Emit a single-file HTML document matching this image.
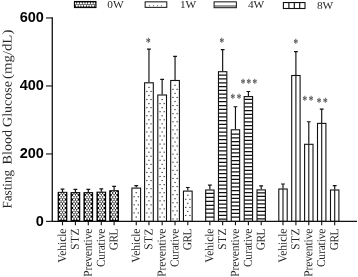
<!DOCTYPE html>
<html><head><meta charset="utf-8"><title>Fasting Blood Glucose</title>
<style>
html,body{margin:0;padding:0;background:#fff;}
body{width:358px;height:277px;overflow:hidden;}
svg{display:block;will-change:transform;opacity:.999;}
.ser{font-family:"Liberation Serif","DejaVu Serif",serif;fill:#262626;}
.san{font-family:"Liberation Sans","DejaVu Sans",sans-serif;font-weight:bold;fill:#000;}
</style></head><body>
<svg width="358" height="277" viewBox="0 0 358 277">
<defs>
<pattern id="chk" width="2.53" height="4.26" patternUnits="userSpaceOnUse" x="62.5" y="197.2">
<rect width="2.53" height="4.26" fill="#000"/>
<path d="M0.000 -1.600L0.950 0.000L0.000 1.600L-0.950 0.000ZM2.530 -1.600L3.480 0.000L2.530 1.600L1.580 0.000ZM0.000 2.660L0.950 4.260L0.000 5.860L-0.950 4.260ZM2.530 2.660L3.480 4.260L2.530 5.860L1.580 4.260ZM1.265 0.530L2.215 2.130L1.265 3.730L0.315 2.130Z" fill="#fff"/>
</pattern>
<pattern id="hz" width="4" height="3.73" patternUnits="userSpaceOnUse" x="0" y="70.75">
<rect width="4" height="3.73" fill="#fff"/><rect x="0" y="0" width="4" height="0.95" fill="#111"/>
</pattern>
</defs>
<rect width="358" height="277" fill="#fff"/>

<path d="M62.50 191.90V189.00M60.60 189.10H64.40" stroke="#111" stroke-width="1.15" fill="none"/>
<rect x="58.20" y="192.40" width="8.60" height="29.00" fill="#000" stroke="#000" stroke-width="1.1"/>
<clipPath id="c625"><rect x="58.80" y="192.85" width="7.4" height="27.95"/></clipPath><g fill="#fff" clip-path="url(#c625)"><ellipse cx="59.80" cy="193.00" rx="1.0" ry="1.2"/><ellipse cx="62.50" cy="193.00" rx="1.0" ry="1.2"/><ellipse cx="65.20" cy="193.00" rx="1.0" ry="1.2"/><ellipse cx="61.15" cy="195.15" rx="1.0" ry="1.2"/><ellipse cx="63.85" cy="195.15" rx="1.0" ry="1.2"/><ellipse cx="59.80" cy="197.30" rx="1.0" ry="1.2"/><ellipse cx="62.50" cy="197.30" rx="1.0" ry="1.2"/><ellipse cx="65.20" cy="197.30" rx="1.0" ry="1.2"/><ellipse cx="61.15" cy="199.45" rx="1.0" ry="1.2"/><ellipse cx="63.85" cy="199.45" rx="1.0" ry="1.2"/><ellipse cx="59.80" cy="201.60" rx="1.0" ry="1.2"/><ellipse cx="62.50" cy="201.60" rx="1.0" ry="1.2"/><ellipse cx="65.20" cy="201.60" rx="1.0" ry="1.2"/><ellipse cx="61.15" cy="203.75" rx="1.0" ry="1.2"/><ellipse cx="63.85" cy="203.75" rx="1.0" ry="1.2"/><ellipse cx="59.80" cy="205.90" rx="1.0" ry="1.2"/><ellipse cx="62.50" cy="205.90" rx="1.0" ry="1.2"/><ellipse cx="65.20" cy="205.90" rx="1.0" ry="1.2"/><ellipse cx="61.15" cy="208.05" rx="1.0" ry="1.2"/><ellipse cx="63.85" cy="208.05" rx="1.0" ry="1.2"/><ellipse cx="59.80" cy="210.20" rx="1.0" ry="1.2"/><ellipse cx="62.50" cy="210.20" rx="1.0" ry="1.2"/><ellipse cx="65.20" cy="210.20" rx="1.0" ry="1.2"/><ellipse cx="61.15" cy="212.35" rx="1.0" ry="1.2"/><ellipse cx="63.85" cy="212.35" rx="1.0" ry="1.2"/><ellipse cx="59.80" cy="214.50" rx="1.0" ry="1.2"/><ellipse cx="62.50" cy="214.50" rx="1.0" ry="1.2"/><ellipse cx="65.20" cy="214.50" rx="1.0" ry="1.2"/><ellipse cx="61.15" cy="216.65" rx="1.0" ry="1.2"/><ellipse cx="63.85" cy="216.65" rx="1.0" ry="1.2"/><ellipse cx="59.80" cy="218.80" rx="1.0" ry="1.2"/><ellipse cx="62.50" cy="218.80" rx="1.0" ry="1.2"/><ellipse cx="65.20" cy="218.80" rx="1.0" ry="1.2"/></g>
<path d="M62.50 221.40V225.3" stroke="#111" stroke-width="1.1"/>
<text class="ser" font-size="11.4" text-anchor="end" letter-spacing="0" transform="translate(65.95 228.60) rotate(-89.9) scale(1 1.06)">Vehicle</text>
<path d="M75.40 192.20V189.20M73.50 189.30H77.30" stroke="#111" stroke-width="1.15" fill="none"/>
<rect x="71.10" y="192.70" width="8.60" height="28.70" fill="#000" stroke="#000" stroke-width="1.1"/>
<clipPath id="c754"><rect x="71.70" y="193.15" width="7.4" height="27.65"/></clipPath><g fill="#fff" clip-path="url(#c754)"><ellipse cx="72.70" cy="193.00" rx="1.0" ry="1.2"/><ellipse cx="75.40" cy="193.00" rx="1.0" ry="1.2"/><ellipse cx="78.10" cy="193.00" rx="1.0" ry="1.2"/><ellipse cx="74.05" cy="195.15" rx="1.0" ry="1.2"/><ellipse cx="76.75" cy="195.15" rx="1.0" ry="1.2"/><ellipse cx="72.70" cy="197.30" rx="1.0" ry="1.2"/><ellipse cx="75.40" cy="197.30" rx="1.0" ry="1.2"/><ellipse cx="78.10" cy="197.30" rx="1.0" ry="1.2"/><ellipse cx="74.05" cy="199.45" rx="1.0" ry="1.2"/><ellipse cx="76.75" cy="199.45" rx="1.0" ry="1.2"/><ellipse cx="72.70" cy="201.60" rx="1.0" ry="1.2"/><ellipse cx="75.40" cy="201.60" rx="1.0" ry="1.2"/><ellipse cx="78.10" cy="201.60" rx="1.0" ry="1.2"/><ellipse cx="74.05" cy="203.75" rx="1.0" ry="1.2"/><ellipse cx="76.75" cy="203.75" rx="1.0" ry="1.2"/><ellipse cx="72.70" cy="205.90" rx="1.0" ry="1.2"/><ellipse cx="75.40" cy="205.90" rx="1.0" ry="1.2"/><ellipse cx="78.10" cy="205.90" rx="1.0" ry="1.2"/><ellipse cx="74.05" cy="208.05" rx="1.0" ry="1.2"/><ellipse cx="76.75" cy="208.05" rx="1.0" ry="1.2"/><ellipse cx="72.70" cy="210.20" rx="1.0" ry="1.2"/><ellipse cx="75.40" cy="210.20" rx="1.0" ry="1.2"/><ellipse cx="78.10" cy="210.20" rx="1.0" ry="1.2"/><ellipse cx="74.05" cy="212.35" rx="1.0" ry="1.2"/><ellipse cx="76.75" cy="212.35" rx="1.0" ry="1.2"/><ellipse cx="72.70" cy="214.50" rx="1.0" ry="1.2"/><ellipse cx="75.40" cy="214.50" rx="1.0" ry="1.2"/><ellipse cx="78.10" cy="214.50" rx="1.0" ry="1.2"/><ellipse cx="74.05" cy="216.65" rx="1.0" ry="1.2"/><ellipse cx="76.75" cy="216.65" rx="1.0" ry="1.2"/><ellipse cx="72.70" cy="218.80" rx="1.0" ry="1.2"/><ellipse cx="75.40" cy="218.80" rx="1.0" ry="1.2"/><ellipse cx="78.10" cy="218.80" rx="1.0" ry="1.2"/></g>
<path d="M75.40 221.40V225.3" stroke="#111" stroke-width="1.1"/>
<text class="ser" font-size="11.4" text-anchor="end" letter-spacing="0.4" transform="translate(78.85 228.20) rotate(-89.9) scale(1 1.06)">STZ</text>
<path d="M88.30 192.20V189.20M86.40 189.30H90.20" stroke="#111" stroke-width="1.15" fill="none"/>
<rect x="84.00" y="192.70" width="8.60" height="28.70" fill="#000" stroke="#000" stroke-width="1.1"/>
<clipPath id="c883"><rect x="84.60" y="193.15" width="7.4" height="27.65"/></clipPath><g fill="#fff" clip-path="url(#c883)"><ellipse cx="85.60" cy="193.00" rx="1.0" ry="1.2"/><ellipse cx="88.30" cy="193.00" rx="1.0" ry="1.2"/><ellipse cx="91.00" cy="193.00" rx="1.0" ry="1.2"/><ellipse cx="86.95" cy="195.15" rx="1.0" ry="1.2"/><ellipse cx="89.65" cy="195.15" rx="1.0" ry="1.2"/><ellipse cx="85.60" cy="197.30" rx="1.0" ry="1.2"/><ellipse cx="88.30" cy="197.30" rx="1.0" ry="1.2"/><ellipse cx="91.00" cy="197.30" rx="1.0" ry="1.2"/><ellipse cx="86.95" cy="199.45" rx="1.0" ry="1.2"/><ellipse cx="89.65" cy="199.45" rx="1.0" ry="1.2"/><ellipse cx="85.60" cy="201.60" rx="1.0" ry="1.2"/><ellipse cx="88.30" cy="201.60" rx="1.0" ry="1.2"/><ellipse cx="91.00" cy="201.60" rx="1.0" ry="1.2"/><ellipse cx="86.95" cy="203.75" rx="1.0" ry="1.2"/><ellipse cx="89.65" cy="203.75" rx="1.0" ry="1.2"/><ellipse cx="85.60" cy="205.90" rx="1.0" ry="1.2"/><ellipse cx="88.30" cy="205.90" rx="1.0" ry="1.2"/><ellipse cx="91.00" cy="205.90" rx="1.0" ry="1.2"/><ellipse cx="86.95" cy="208.05" rx="1.0" ry="1.2"/><ellipse cx="89.65" cy="208.05" rx="1.0" ry="1.2"/><ellipse cx="85.60" cy="210.20" rx="1.0" ry="1.2"/><ellipse cx="88.30" cy="210.20" rx="1.0" ry="1.2"/><ellipse cx="91.00" cy="210.20" rx="1.0" ry="1.2"/><ellipse cx="86.95" cy="212.35" rx="1.0" ry="1.2"/><ellipse cx="89.65" cy="212.35" rx="1.0" ry="1.2"/><ellipse cx="85.60" cy="214.50" rx="1.0" ry="1.2"/><ellipse cx="88.30" cy="214.50" rx="1.0" ry="1.2"/><ellipse cx="91.00" cy="214.50" rx="1.0" ry="1.2"/><ellipse cx="86.95" cy="216.65" rx="1.0" ry="1.2"/><ellipse cx="89.65" cy="216.65" rx="1.0" ry="1.2"/><ellipse cx="85.60" cy="218.80" rx="1.0" ry="1.2"/><ellipse cx="88.30" cy="218.80" rx="1.0" ry="1.2"/><ellipse cx="91.00" cy="218.80" rx="1.0" ry="1.2"/></g>
<path d="M88.30 221.40V225.3" stroke="#111" stroke-width="1.1"/>
<text class="ser" font-size="11.4" text-anchor="end" letter-spacing="-0.05" transform="translate(91.75 228.65) rotate(-89.9) scale(1 1.06)">Preventive</text>
<path d="M101.30 191.70V188.80M99.40 188.90H103.20" stroke="#111" stroke-width="1.15" fill="none"/>
<rect x="97.00" y="192.20" width="8.60" height="29.20" fill="#000" stroke="#000" stroke-width="1.1"/>
<clipPath id="c1013"><rect x="97.60" y="192.65" width="7.4" height="28.15"/></clipPath><g fill="#fff" clip-path="url(#c1013)"><ellipse cx="98.60" cy="193.00" rx="1.0" ry="1.2"/><ellipse cx="101.30" cy="193.00" rx="1.0" ry="1.2"/><ellipse cx="104.00" cy="193.00" rx="1.0" ry="1.2"/><ellipse cx="99.95" cy="195.15" rx="1.0" ry="1.2"/><ellipse cx="102.65" cy="195.15" rx="1.0" ry="1.2"/><ellipse cx="98.60" cy="197.30" rx="1.0" ry="1.2"/><ellipse cx="101.30" cy="197.30" rx="1.0" ry="1.2"/><ellipse cx="104.00" cy="197.30" rx="1.0" ry="1.2"/><ellipse cx="99.95" cy="199.45" rx="1.0" ry="1.2"/><ellipse cx="102.65" cy="199.45" rx="1.0" ry="1.2"/><ellipse cx="98.60" cy="201.60" rx="1.0" ry="1.2"/><ellipse cx="101.30" cy="201.60" rx="1.0" ry="1.2"/><ellipse cx="104.00" cy="201.60" rx="1.0" ry="1.2"/><ellipse cx="99.95" cy="203.75" rx="1.0" ry="1.2"/><ellipse cx="102.65" cy="203.75" rx="1.0" ry="1.2"/><ellipse cx="98.60" cy="205.90" rx="1.0" ry="1.2"/><ellipse cx="101.30" cy="205.90" rx="1.0" ry="1.2"/><ellipse cx="104.00" cy="205.90" rx="1.0" ry="1.2"/><ellipse cx="99.95" cy="208.05" rx="1.0" ry="1.2"/><ellipse cx="102.65" cy="208.05" rx="1.0" ry="1.2"/><ellipse cx="98.60" cy="210.20" rx="1.0" ry="1.2"/><ellipse cx="101.30" cy="210.20" rx="1.0" ry="1.2"/><ellipse cx="104.00" cy="210.20" rx="1.0" ry="1.2"/><ellipse cx="99.95" cy="212.35" rx="1.0" ry="1.2"/><ellipse cx="102.65" cy="212.35" rx="1.0" ry="1.2"/><ellipse cx="98.60" cy="214.50" rx="1.0" ry="1.2"/><ellipse cx="101.30" cy="214.50" rx="1.0" ry="1.2"/><ellipse cx="104.00" cy="214.50" rx="1.0" ry="1.2"/><ellipse cx="99.95" cy="216.65" rx="1.0" ry="1.2"/><ellipse cx="102.65" cy="216.65" rx="1.0" ry="1.2"/><ellipse cx="98.60" cy="218.80" rx="1.0" ry="1.2"/><ellipse cx="101.30" cy="218.80" rx="1.0" ry="1.2"/><ellipse cx="104.00" cy="218.80" rx="1.0" ry="1.2"/></g>
<path d="M101.30 221.40V225.3" stroke="#111" stroke-width="1.1"/>
<text class="ser" font-size="11.4" text-anchor="end" letter-spacing="-0.1" transform="translate(104.75 228.70) rotate(-89.9) scale(1 1.06)">Curative</text>
<path d="M114.10 190.30V186.20M112.20 186.30H116.00" stroke="#111" stroke-width="1.15" fill="none"/>
<rect x="109.80" y="190.80" width="8.60" height="30.60" fill="#000" stroke="#000" stroke-width="1.1"/>
<clipPath id="c1141"><rect x="110.40" y="191.25" width="7.4" height="29.55"/></clipPath><g fill="#fff" clip-path="url(#c1141)"><ellipse cx="112.75" cy="190.85" rx="1.0" ry="1.2"/><ellipse cx="115.45" cy="190.85" rx="1.0" ry="1.2"/><ellipse cx="111.40" cy="193.00" rx="1.0" ry="1.2"/><ellipse cx="114.10" cy="193.00" rx="1.0" ry="1.2"/><ellipse cx="116.80" cy="193.00" rx="1.0" ry="1.2"/><ellipse cx="112.75" cy="195.15" rx="1.0" ry="1.2"/><ellipse cx="115.45" cy="195.15" rx="1.0" ry="1.2"/><ellipse cx="111.40" cy="197.30" rx="1.0" ry="1.2"/><ellipse cx="114.10" cy="197.30" rx="1.0" ry="1.2"/><ellipse cx="116.80" cy="197.30" rx="1.0" ry="1.2"/><ellipse cx="112.75" cy="199.45" rx="1.0" ry="1.2"/><ellipse cx="115.45" cy="199.45" rx="1.0" ry="1.2"/><ellipse cx="111.40" cy="201.60" rx="1.0" ry="1.2"/><ellipse cx="114.10" cy="201.60" rx="1.0" ry="1.2"/><ellipse cx="116.80" cy="201.60" rx="1.0" ry="1.2"/><ellipse cx="112.75" cy="203.75" rx="1.0" ry="1.2"/><ellipse cx="115.45" cy="203.75" rx="1.0" ry="1.2"/><ellipse cx="111.40" cy="205.90" rx="1.0" ry="1.2"/><ellipse cx="114.10" cy="205.90" rx="1.0" ry="1.2"/><ellipse cx="116.80" cy="205.90" rx="1.0" ry="1.2"/><ellipse cx="112.75" cy="208.05" rx="1.0" ry="1.2"/><ellipse cx="115.45" cy="208.05" rx="1.0" ry="1.2"/><ellipse cx="111.40" cy="210.20" rx="1.0" ry="1.2"/><ellipse cx="114.10" cy="210.20" rx="1.0" ry="1.2"/><ellipse cx="116.80" cy="210.20" rx="1.0" ry="1.2"/><ellipse cx="112.75" cy="212.35" rx="1.0" ry="1.2"/><ellipse cx="115.45" cy="212.35" rx="1.0" ry="1.2"/><ellipse cx="111.40" cy="214.50" rx="1.0" ry="1.2"/><ellipse cx="114.10" cy="214.50" rx="1.0" ry="1.2"/><ellipse cx="116.80" cy="214.50" rx="1.0" ry="1.2"/><ellipse cx="112.75" cy="216.65" rx="1.0" ry="1.2"/><ellipse cx="115.45" cy="216.65" rx="1.0" ry="1.2"/><ellipse cx="111.40" cy="218.80" rx="1.0" ry="1.2"/><ellipse cx="114.10" cy="218.80" rx="1.0" ry="1.2"/><ellipse cx="116.80" cy="218.80" rx="1.0" ry="1.2"/></g>
<path d="M114.10 221.40V225.3" stroke="#111" stroke-width="1.1"/>
<text class="ser" font-size="11.4" text-anchor="end" letter-spacing="-0.6" transform="translate(117.55 229.20) rotate(-89.9) scale(1 1.06)">GRL</text>
<path d="M136.25 187.60V185.50M134.35 185.60H138.15" stroke="#111" stroke-width="1.15" fill="none"/>
<rect x="131.90" y="188.10" width="8.70" height="33.30" fill="#fff" stroke="#111" stroke-width="1.1"/>
<rect x="135.60" y="192.15" width="1.3" height="1.1" fill="#3a3a3a"/>
<rect x="133.50" y="196.20" width="1.3" height="1.1" fill="#3a3a3a"/>
<rect x="137.70" y="196.20" width="1.3" height="1.1" fill="#3a3a3a"/>
<rect x="135.60" y="200.25" width="1.3" height="1.1" fill="#3a3a3a"/>
<rect x="133.50" y="204.30" width="1.3" height="1.1" fill="#3a3a3a"/>
<rect x="137.70" y="204.30" width="1.3" height="1.1" fill="#3a3a3a"/>
<rect x="135.60" y="208.35" width="1.3" height="1.1" fill="#3a3a3a"/>
<rect x="133.50" y="212.40" width="1.3" height="1.1" fill="#3a3a3a"/>
<rect x="137.70" y="212.40" width="1.3" height="1.1" fill="#3a3a3a"/>
<rect x="135.60" y="216.45" width="1.3" height="1.1" fill="#3a3a3a"/>
<path d="M136.25 221.40V225.3" stroke="#111" stroke-width="1.1"/>
<text class="ser" font-size="11.4" text-anchor="end" letter-spacing="0" transform="translate(139.70 228.60) rotate(-89.9) scale(1 1.06)">Vehicle</text>
<path d="M148.95 82.30V49.00M147.05 49.10H150.85" stroke="#111" stroke-width="1.15" fill="none"/>
<rect x="144.60" y="82.80" width="8.70" height="138.60" fill="#fff" stroke="#111" stroke-width="1.1"/>
<rect x="148.30" y="86.85" width="1.3" height="1.1" fill="#3a3a3a"/>
<rect x="146.20" y="90.90" width="1.3" height="1.1" fill="#3a3a3a"/>
<rect x="150.40" y="90.90" width="1.3" height="1.1" fill="#3a3a3a"/>
<rect x="148.30" y="94.95" width="1.3" height="1.1" fill="#3a3a3a"/>
<rect x="146.20" y="99.00" width="1.3" height="1.1" fill="#3a3a3a"/>
<rect x="150.40" y="99.00" width="1.3" height="1.1" fill="#3a3a3a"/>
<rect x="148.30" y="103.05" width="1.3" height="1.1" fill="#3a3a3a"/>
<rect x="146.20" y="107.10" width="1.3" height="1.1" fill="#3a3a3a"/>
<rect x="150.40" y="107.10" width="1.3" height="1.1" fill="#3a3a3a"/>
<rect x="148.30" y="111.15" width="1.3" height="1.1" fill="#3a3a3a"/>
<rect x="146.20" y="115.20" width="1.3" height="1.1" fill="#3a3a3a"/>
<rect x="150.40" y="115.20" width="1.3" height="1.1" fill="#3a3a3a"/>
<rect x="148.30" y="119.25" width="1.3" height="1.1" fill="#3a3a3a"/>
<rect x="146.20" y="123.30" width="1.3" height="1.1" fill="#3a3a3a"/>
<rect x="150.40" y="123.30" width="1.3" height="1.1" fill="#3a3a3a"/>
<rect x="148.30" y="127.35" width="1.3" height="1.1" fill="#3a3a3a"/>
<rect x="146.20" y="131.40" width="1.3" height="1.1" fill="#3a3a3a"/>
<rect x="150.40" y="131.40" width="1.3" height="1.1" fill="#3a3a3a"/>
<rect x="148.30" y="135.45" width="1.3" height="1.1" fill="#3a3a3a"/>
<rect x="146.20" y="139.50" width="1.3" height="1.1" fill="#3a3a3a"/>
<rect x="150.40" y="139.50" width="1.3" height="1.1" fill="#3a3a3a"/>
<rect x="148.30" y="143.55" width="1.3" height="1.1" fill="#3a3a3a"/>
<rect x="146.20" y="147.60" width="1.3" height="1.1" fill="#3a3a3a"/>
<rect x="150.40" y="147.60" width="1.3" height="1.1" fill="#3a3a3a"/>
<rect x="148.30" y="151.65" width="1.3" height="1.1" fill="#3a3a3a"/>
<rect x="146.20" y="155.70" width="1.3" height="1.1" fill="#3a3a3a"/>
<rect x="150.40" y="155.70" width="1.3" height="1.1" fill="#3a3a3a"/>
<rect x="148.30" y="159.75" width="1.3" height="1.1" fill="#3a3a3a"/>
<rect x="146.20" y="163.80" width="1.3" height="1.1" fill="#3a3a3a"/>
<rect x="150.40" y="163.80" width="1.3" height="1.1" fill="#3a3a3a"/>
<rect x="148.30" y="167.85" width="1.3" height="1.1" fill="#3a3a3a"/>
<rect x="146.20" y="171.90" width="1.3" height="1.1" fill="#3a3a3a"/>
<rect x="150.40" y="171.90" width="1.3" height="1.1" fill="#3a3a3a"/>
<rect x="148.30" y="175.95" width="1.3" height="1.1" fill="#3a3a3a"/>
<rect x="146.20" y="180.00" width="1.3" height="1.1" fill="#3a3a3a"/>
<rect x="150.40" y="180.00" width="1.3" height="1.1" fill="#3a3a3a"/>
<rect x="148.30" y="184.05" width="1.3" height="1.1" fill="#3a3a3a"/>
<rect x="146.20" y="188.10" width="1.3" height="1.1" fill="#3a3a3a"/>
<rect x="150.40" y="188.10" width="1.3" height="1.1" fill="#3a3a3a"/>
<rect x="148.30" y="192.15" width="1.3" height="1.1" fill="#3a3a3a"/>
<rect x="146.20" y="196.20" width="1.3" height="1.1" fill="#3a3a3a"/>
<rect x="150.40" y="196.20" width="1.3" height="1.1" fill="#3a3a3a"/>
<rect x="148.30" y="200.25" width="1.3" height="1.1" fill="#3a3a3a"/>
<rect x="146.20" y="204.30" width="1.3" height="1.1" fill="#3a3a3a"/>
<rect x="150.40" y="204.30" width="1.3" height="1.1" fill="#3a3a3a"/>
<rect x="148.30" y="208.35" width="1.3" height="1.1" fill="#3a3a3a"/>
<rect x="146.20" y="212.40" width="1.3" height="1.1" fill="#3a3a3a"/>
<rect x="150.40" y="212.40" width="1.3" height="1.1" fill="#3a3a3a"/>
<rect x="148.30" y="216.45" width="1.3" height="1.1" fill="#3a3a3a"/>
<path d="M148.95 221.40V225.3" stroke="#111" stroke-width="1.1"/>
<text class="ser" font-size="11.4" text-anchor="end" letter-spacing="0.4" transform="translate(152.40 228.20) rotate(-89.9) scale(1 1.06)">STZ</text>
<path d="M162.15 94.50V79.30M160.25 79.40H164.05" stroke="#111" stroke-width="1.15" fill="none"/>
<rect x="157.80" y="95.00" width="8.70" height="126.40" fill="#fff" stroke="#111" stroke-width="1.1"/>
<rect x="161.50" y="99.00" width="1.3" height="1.1" fill="#3a3a3a"/>
<rect x="159.40" y="103.05" width="1.3" height="1.1" fill="#3a3a3a"/>
<rect x="163.60" y="103.05" width="1.3" height="1.1" fill="#3a3a3a"/>
<rect x="161.50" y="107.10" width="1.3" height="1.1" fill="#3a3a3a"/>
<rect x="159.40" y="111.15" width="1.3" height="1.1" fill="#3a3a3a"/>
<rect x="163.60" y="111.15" width="1.3" height="1.1" fill="#3a3a3a"/>
<rect x="161.50" y="115.20" width="1.3" height="1.1" fill="#3a3a3a"/>
<rect x="159.40" y="119.25" width="1.3" height="1.1" fill="#3a3a3a"/>
<rect x="163.60" y="119.25" width="1.3" height="1.1" fill="#3a3a3a"/>
<rect x="161.50" y="123.30" width="1.3" height="1.1" fill="#3a3a3a"/>
<rect x="159.40" y="127.35" width="1.3" height="1.1" fill="#3a3a3a"/>
<rect x="163.60" y="127.35" width="1.3" height="1.1" fill="#3a3a3a"/>
<rect x="161.50" y="131.40" width="1.3" height="1.1" fill="#3a3a3a"/>
<rect x="159.40" y="135.45" width="1.3" height="1.1" fill="#3a3a3a"/>
<rect x="163.60" y="135.45" width="1.3" height="1.1" fill="#3a3a3a"/>
<rect x="161.50" y="139.50" width="1.3" height="1.1" fill="#3a3a3a"/>
<rect x="159.40" y="143.55" width="1.3" height="1.1" fill="#3a3a3a"/>
<rect x="163.60" y="143.55" width="1.3" height="1.1" fill="#3a3a3a"/>
<rect x="161.50" y="147.60" width="1.3" height="1.1" fill="#3a3a3a"/>
<rect x="159.40" y="151.65" width="1.3" height="1.1" fill="#3a3a3a"/>
<rect x="163.60" y="151.65" width="1.3" height="1.1" fill="#3a3a3a"/>
<rect x="161.50" y="155.70" width="1.3" height="1.1" fill="#3a3a3a"/>
<rect x="159.40" y="159.75" width="1.3" height="1.1" fill="#3a3a3a"/>
<rect x="163.60" y="159.75" width="1.3" height="1.1" fill="#3a3a3a"/>
<rect x="161.50" y="163.80" width="1.3" height="1.1" fill="#3a3a3a"/>
<rect x="159.40" y="167.85" width="1.3" height="1.1" fill="#3a3a3a"/>
<rect x="163.60" y="167.85" width="1.3" height="1.1" fill="#3a3a3a"/>
<rect x="161.50" y="171.90" width="1.3" height="1.1" fill="#3a3a3a"/>
<rect x="159.40" y="175.95" width="1.3" height="1.1" fill="#3a3a3a"/>
<rect x="163.60" y="175.95" width="1.3" height="1.1" fill="#3a3a3a"/>
<rect x="161.50" y="180.00" width="1.3" height="1.1" fill="#3a3a3a"/>
<rect x="159.40" y="184.05" width="1.3" height="1.1" fill="#3a3a3a"/>
<rect x="163.60" y="184.05" width="1.3" height="1.1" fill="#3a3a3a"/>
<rect x="161.50" y="188.10" width="1.3" height="1.1" fill="#3a3a3a"/>
<rect x="159.40" y="192.15" width="1.3" height="1.1" fill="#3a3a3a"/>
<rect x="163.60" y="192.15" width="1.3" height="1.1" fill="#3a3a3a"/>
<rect x="161.50" y="196.20" width="1.3" height="1.1" fill="#3a3a3a"/>
<rect x="159.40" y="200.25" width="1.3" height="1.1" fill="#3a3a3a"/>
<rect x="163.60" y="200.25" width="1.3" height="1.1" fill="#3a3a3a"/>
<rect x="161.50" y="204.30" width="1.3" height="1.1" fill="#3a3a3a"/>
<rect x="159.40" y="208.35" width="1.3" height="1.1" fill="#3a3a3a"/>
<rect x="163.60" y="208.35" width="1.3" height="1.1" fill="#3a3a3a"/>
<rect x="161.50" y="212.40" width="1.3" height="1.1" fill="#3a3a3a"/>
<rect x="159.40" y="216.45" width="1.3" height="1.1" fill="#3a3a3a"/>
<rect x="163.60" y="216.45" width="1.3" height="1.1" fill="#3a3a3a"/>
<path d="M162.15 221.40V225.3" stroke="#111" stroke-width="1.1"/>
<text class="ser" font-size="11.4" text-anchor="end" letter-spacing="-0.05" transform="translate(165.60 228.65) rotate(-89.9) scale(1 1.06)">Preventive</text>
<path d="M175.05 80.00V56.30M173.15 56.40H176.95" stroke="#111" stroke-width="1.15" fill="none"/>
<rect x="170.70" y="80.50" width="8.70" height="140.90" fill="#fff" stroke="#111" stroke-width="1.1"/>
<rect x="174.40" y="84.75" width="1.3" height="1.1" fill="#3a3a3a"/>
<rect x="172.30" y="88.80" width="1.3" height="1.1" fill="#3a3a3a"/>
<rect x="176.50" y="88.80" width="1.3" height="1.1" fill="#3a3a3a"/>
<rect x="174.40" y="92.85" width="1.3" height="1.1" fill="#3a3a3a"/>
<rect x="172.30" y="96.90" width="1.3" height="1.1" fill="#3a3a3a"/>
<rect x="176.50" y="96.90" width="1.3" height="1.1" fill="#3a3a3a"/>
<rect x="174.40" y="100.95" width="1.3" height="1.1" fill="#3a3a3a"/>
<rect x="172.30" y="105.00" width="1.3" height="1.1" fill="#3a3a3a"/>
<rect x="176.50" y="105.00" width="1.3" height="1.1" fill="#3a3a3a"/>
<rect x="174.40" y="109.05" width="1.3" height="1.1" fill="#3a3a3a"/>
<rect x="172.30" y="113.10" width="1.3" height="1.1" fill="#3a3a3a"/>
<rect x="176.50" y="113.10" width="1.3" height="1.1" fill="#3a3a3a"/>
<rect x="174.40" y="117.15" width="1.3" height="1.1" fill="#3a3a3a"/>
<rect x="172.30" y="121.20" width="1.3" height="1.1" fill="#3a3a3a"/>
<rect x="176.50" y="121.20" width="1.3" height="1.1" fill="#3a3a3a"/>
<rect x="174.40" y="125.25" width="1.3" height="1.1" fill="#3a3a3a"/>
<rect x="172.30" y="129.30" width="1.3" height="1.1" fill="#3a3a3a"/>
<rect x="176.50" y="129.30" width="1.3" height="1.1" fill="#3a3a3a"/>
<rect x="174.40" y="133.35" width="1.3" height="1.1" fill="#3a3a3a"/>
<rect x="172.30" y="137.40" width="1.3" height="1.1" fill="#3a3a3a"/>
<rect x="176.50" y="137.40" width="1.3" height="1.1" fill="#3a3a3a"/>
<rect x="174.40" y="141.45" width="1.3" height="1.1" fill="#3a3a3a"/>
<rect x="172.30" y="145.50" width="1.3" height="1.1" fill="#3a3a3a"/>
<rect x="176.50" y="145.50" width="1.3" height="1.1" fill="#3a3a3a"/>
<rect x="174.40" y="149.55" width="1.3" height="1.1" fill="#3a3a3a"/>
<rect x="172.30" y="153.60" width="1.3" height="1.1" fill="#3a3a3a"/>
<rect x="176.50" y="153.60" width="1.3" height="1.1" fill="#3a3a3a"/>
<rect x="174.40" y="157.65" width="1.3" height="1.1" fill="#3a3a3a"/>
<rect x="172.30" y="161.70" width="1.3" height="1.1" fill="#3a3a3a"/>
<rect x="176.50" y="161.70" width="1.3" height="1.1" fill="#3a3a3a"/>
<rect x="174.40" y="165.75" width="1.3" height="1.1" fill="#3a3a3a"/>
<rect x="172.30" y="169.80" width="1.3" height="1.1" fill="#3a3a3a"/>
<rect x="176.50" y="169.80" width="1.3" height="1.1" fill="#3a3a3a"/>
<rect x="174.40" y="173.85" width="1.3" height="1.1" fill="#3a3a3a"/>
<rect x="172.30" y="177.90" width="1.3" height="1.1" fill="#3a3a3a"/>
<rect x="176.50" y="177.90" width="1.3" height="1.1" fill="#3a3a3a"/>
<rect x="174.40" y="181.95" width="1.3" height="1.1" fill="#3a3a3a"/>
<rect x="172.30" y="186.00" width="1.3" height="1.1" fill="#3a3a3a"/>
<rect x="176.50" y="186.00" width="1.3" height="1.1" fill="#3a3a3a"/>
<rect x="174.40" y="190.05" width="1.3" height="1.1" fill="#3a3a3a"/>
<rect x="172.30" y="194.10" width="1.3" height="1.1" fill="#3a3a3a"/>
<rect x="176.50" y="194.10" width="1.3" height="1.1" fill="#3a3a3a"/>
<rect x="174.40" y="198.15" width="1.3" height="1.1" fill="#3a3a3a"/>
<rect x="172.30" y="202.20" width="1.3" height="1.1" fill="#3a3a3a"/>
<rect x="176.50" y="202.20" width="1.3" height="1.1" fill="#3a3a3a"/>
<rect x="174.40" y="206.25" width="1.3" height="1.1" fill="#3a3a3a"/>
<rect x="172.30" y="210.30" width="1.3" height="1.1" fill="#3a3a3a"/>
<rect x="176.50" y="210.30" width="1.3" height="1.1" fill="#3a3a3a"/>
<rect x="174.40" y="214.35" width="1.3" height="1.1" fill="#3a3a3a"/>
<rect x="172.30" y="218.40" width="1.3" height="1.1" fill="#3a3a3a"/>
<rect x="176.50" y="218.40" width="1.3" height="1.1" fill="#3a3a3a"/>
<path d="M175.05 221.40V225.3" stroke="#111" stroke-width="1.1"/>
<text class="ser" font-size="11.4" text-anchor="end" letter-spacing="-0.1" transform="translate(178.50 228.70) rotate(-89.9) scale(1 1.06)">Curative</text>
<path d="M187.80 190.60V187.40M185.90 187.50H189.70" stroke="#111" stroke-width="1.15" fill="none"/>
<rect x="183.45" y="191.10" width="8.70" height="30.30" fill="#fff" stroke="#111" stroke-width="1.1"/>
<rect x="187.15" y="194.70" width="1.3" height="1.1" fill="#3a3a3a"/>
<rect x="185.05" y="198.75" width="1.3" height="1.1" fill="#3a3a3a"/>
<rect x="189.25" y="198.75" width="1.3" height="1.1" fill="#3a3a3a"/>
<rect x="187.15" y="202.80" width="1.3" height="1.1" fill="#3a3a3a"/>
<rect x="185.05" y="206.85" width="1.3" height="1.1" fill="#3a3a3a"/>
<rect x="189.25" y="206.85" width="1.3" height="1.1" fill="#3a3a3a"/>
<rect x="187.15" y="210.90" width="1.3" height="1.1" fill="#3a3a3a"/>
<rect x="185.05" y="214.95" width="1.3" height="1.1" fill="#3a3a3a"/>
<rect x="189.25" y="214.95" width="1.3" height="1.1" fill="#3a3a3a"/>
<path d="M187.80 221.40V225.3" stroke="#111" stroke-width="1.1"/>
<text class="ser" font-size="11.4" text-anchor="end" letter-spacing="-0.6" transform="translate(191.25 229.20) rotate(-89.9) scale(1 1.06)">GRL</text>
<path d="M209.85 189.50V185.00M207.95 185.10H211.75" stroke="#111" stroke-width="1.15" fill="none"/>
<rect x="205.67" y="190.00" width="8.36" height="31.40" fill="#fff" stroke="#111" stroke-width="1.1"/>
<path d="M205.67 217.10H214.03M205.67 213.15H214.03M205.67 209.20H214.03M205.67 205.25H214.03M205.67 201.30H214.03M205.67 197.35H214.03M205.67 193.40H214.03" stroke="#111" stroke-width="1.25" fill="none"/>
<path d="M209.85 221.40V225.3" stroke="#111" stroke-width="1.1"/>
<text class="ser" font-size="11.4" text-anchor="end" letter-spacing="0" transform="translate(213.30 228.60) rotate(-89.9) scale(1 1.06)">Vehicle</text>
<path d="M222.65 71.20V49.50M220.75 49.60H224.55" stroke="#111" stroke-width="1.15" fill="none"/>
<rect x="218.47" y="71.70" width="8.36" height="149.70" fill="#fff" stroke="#111" stroke-width="1.1"/>
<path d="M218.47 219.20H226.83M218.47 215.41H226.83M218.47 211.62H226.83M218.47 207.83H226.83M218.47 204.04H226.83M218.47 200.25H226.83M218.47 196.46H226.83M218.47 192.67H226.83M218.47 188.88H226.83M218.47 185.09H226.83M218.47 181.30H226.83M218.47 177.51H226.83M218.47 173.72H226.83M218.47 169.93H226.83M218.47 166.14H226.83M218.47 162.35H226.83M218.47 158.56H226.83M218.47 154.77H226.83M218.47 150.98H226.83M218.47 147.19H226.83M218.47 143.40H226.83M218.47 139.61H226.83M218.47 135.82H226.83M218.47 132.03H226.83M218.47 128.24H226.83M218.47 124.45H226.83M218.47 120.66H226.83M218.47 116.87H226.83M218.47 113.08H226.83M218.47 109.29H226.83M218.47 105.50H226.83M218.47 101.71H226.83M218.47 97.92H226.83M218.47 94.13H226.83M218.47 90.34H226.83M218.47 86.55H226.83M218.47 82.76H226.83M218.47 78.97H226.83M218.47 75.18H226.83" stroke="#111" stroke-width="1.25" fill="none"/>
<path d="M222.65 221.40V225.3" stroke="#111" stroke-width="1.1"/>
<text class="ser" font-size="11.4" text-anchor="end" letter-spacing="0.4" transform="translate(226.10 228.20) rotate(-89.9) scale(1 1.06)">STZ</text>
<path d="M235.45 129.30V106.60M233.55 106.70H237.35" stroke="#111" stroke-width="1.15" fill="none"/>
<rect x="231.27" y="129.80" width="8.36" height="91.60" fill="#fff" stroke="#111" stroke-width="1.1"/>
<path d="M231.27 217.20H239.63M231.27 213.42H239.63M231.27 209.64H239.63M231.27 205.86H239.63M231.27 202.08H239.63M231.27 198.30H239.63M231.27 194.52H239.63M231.27 190.74H239.63M231.27 186.96H239.63M231.27 183.18H239.63M231.27 179.40H239.63M231.27 175.62H239.63M231.27 171.84H239.63M231.27 168.06H239.63M231.27 164.28H239.63M231.27 160.50H239.63M231.27 156.72H239.63M231.27 152.94H239.63M231.27 149.16H239.63M231.27 145.38H239.63M231.27 141.60H239.63M231.27 137.82H239.63M231.27 134.04H239.63" stroke="#111" stroke-width="1.25" fill="none"/>
<path d="M235.45 221.40V225.3" stroke="#111" stroke-width="1.1"/>
<text class="ser" font-size="11.4" text-anchor="end" letter-spacing="-0.05" transform="translate(238.90 228.65) rotate(-89.9) scale(1 1.06)">Preventive</text>
<path d="M248.40 96.10V91.40M246.50 91.50H250.30" stroke="#111" stroke-width="1.15" fill="none"/>
<rect x="244.22" y="96.60" width="8.36" height="124.80" fill="#fff" stroke="#111" stroke-width="1.1"/>
<path d="M244.22 218.80H252.58M244.22 215.07H252.58M244.22 211.34H252.58M244.22 207.61H252.58M244.22 203.88H252.58M244.22 200.15H252.58M244.22 196.42H252.58M244.22 192.69H252.58M244.22 188.96H252.58M244.22 185.23H252.58M244.22 181.50H252.58M244.22 177.77H252.58M244.22 174.04H252.58M244.22 170.31H252.58M244.22 166.58H252.58M244.22 162.85H252.58M244.22 159.12H252.58M244.22 155.39H252.58M244.22 151.66H252.58M244.22 147.93H252.58M244.22 144.20H252.58M244.22 140.47H252.58M244.22 136.74H252.58M244.22 133.01H252.58M244.22 129.28H252.58M244.22 125.55H252.58M244.22 121.82H252.58M244.22 118.09H252.58M244.22 114.36H252.58M244.22 110.63H252.58M244.22 106.90H252.58M244.22 103.17H252.58M244.22 99.44H252.58" stroke="#111" stroke-width="1.25" fill="none"/>
<path d="M248.40 221.40V225.3" stroke="#111" stroke-width="1.1"/>
<text class="ser" font-size="11.4" text-anchor="end" letter-spacing="-0.1" transform="translate(251.85 228.70) rotate(-89.9) scale(1 1.06)">Curative</text>
<path d="M261.20 189.40V185.70M259.30 185.80H263.10" stroke="#111" stroke-width="1.15" fill="none"/>
<rect x="257.02" y="189.90" width="8.36" height="31.50" fill="#fff" stroke="#111" stroke-width="1.1"/>
<path d="M257.02 218.80H265.38M257.02 215.08H265.38M257.02 211.36H265.38M257.02 207.64H265.38M257.02 203.92H265.38M257.02 200.20H265.38M257.02 196.48H265.38M257.02 192.76H265.38" stroke="#111" stroke-width="1.25" fill="none"/>
<path d="M261.20 221.40V225.3" stroke="#111" stroke-width="1.1"/>
<text class="ser" font-size="11.4" text-anchor="end" letter-spacing="-0.6" transform="translate(264.65 229.20) rotate(-89.9) scale(1 1.06)">GRL</text>
<path d="M283.00 188.50V183.90M281.10 184.00H284.90" stroke="#111" stroke-width="1.15" fill="none"/>
<rect x="278.80" y="189.00" width="8.40" height="32.40" fill="#fff" stroke="#111" stroke-width="1.1"/>
<path d="M283.00 189.00V221.40" stroke="#111" stroke-width="1.1"/>
<path d="M283.00 221.40V225.3" stroke="#111" stroke-width="1.1"/>
<text class="ser" font-size="11.4" text-anchor="end" letter-spacing="0" transform="translate(286.45 228.60) rotate(-89.9) scale(1 1.06)">Vehicle</text>
<path d="M295.90 75.00V51.50M294.00 51.60H297.80" stroke="#111" stroke-width="1.15" fill="none"/>
<rect x="291.70" y="75.50" width="8.40" height="145.90" fill="#fff" stroke="#111" stroke-width="1.1"/>
<path d="M295.90 75.50V221.40" stroke="#111" stroke-width="1.1"/>
<path d="M295.90 221.40V225.3" stroke="#111" stroke-width="1.1"/>
<text class="ser" font-size="11.4" text-anchor="end" letter-spacing="0.4" transform="translate(299.35 228.20) rotate(-89.9) scale(1 1.06)">STZ</text>
<path d="M308.80 143.80V121.60M306.90 121.70H310.70" stroke="#111" stroke-width="1.15" fill="none"/>
<rect x="304.60" y="144.30" width="8.40" height="77.10" fill="#fff" stroke="#111" stroke-width="1.1"/>
<path d="M308.80 144.30V221.40" stroke="#111" stroke-width="1.1"/>
<path d="M308.80 221.40V225.3" stroke="#111" stroke-width="1.1"/>
<text class="ser" font-size="11.4" text-anchor="end" letter-spacing="-0.05" transform="translate(312.25 228.65) rotate(-89.9) scale(1 1.06)">Preventive</text>
<path d="M321.70 122.90V109.00M319.80 109.10H323.60" stroke="#111" stroke-width="1.15" fill="none"/>
<rect x="317.50" y="123.40" width="8.40" height="98.00" fill="#fff" stroke="#111" stroke-width="1.1"/>
<path d="M321.70 123.40V221.40" stroke="#111" stroke-width="1.1"/>
<path d="M321.70 221.40V225.3" stroke="#111" stroke-width="1.1"/>
<text class="ser" font-size="11.4" text-anchor="end" letter-spacing="-0.1" transform="translate(325.15 228.70) rotate(-89.9) scale(1 1.06)">Curative</text>
<path d="M334.70 189.50V185.50M332.80 185.60H336.60" stroke="#111" stroke-width="1.15" fill="none"/>
<rect x="330.50" y="190.00" width="8.40" height="31.40" fill="#fff" stroke="#111" stroke-width="1.1"/>
<path d="M334.70 190.00V221.40" stroke="#111" stroke-width="1.1"/>
<path d="M334.70 221.40V225.3" stroke="#111" stroke-width="1.1"/>
<text class="ser" font-size="11.4" text-anchor="end" letter-spacing="-0.6" transform="translate(338.15 229.20) rotate(-89.9) scale(1 1.06)">GRL</text>
<path d="M52.3 17.3V221.4" stroke="#222" stroke-width="1.4" fill="none"/>
<path d="M51.599999999999994 221.4H357" stroke="#111" stroke-width="1.25" fill="none"/>
<path d="M46 17.95H52.3" stroke="#222" stroke-width="1.2"/>
<text class="san" font-size="14.5" text-anchor="end" x="43.9" y="22.05">600</text>
<path d="M46 85.95H52.3" stroke="#222" stroke-width="1.2"/>
<text class="san" font-size="14.5" text-anchor="end" x="43.9" y="90.05">400</text>
<path d="M46 153.95H52.3" stroke="#222" stroke-width="1.2"/>
<text class="san" font-size="14.5" text-anchor="end" x="43.9" y="158.05">200</text>
<path d="M46 221.40H52.3" stroke="#222" stroke-width="1.2"/>
<text class="san" font-size="14.5" text-anchor="end" x="43.9" y="226.05">0</text>
<text class="ser" font-size="13.2" textLength="38.6" lengthAdjust="spacingAndGlyphs" transform="translate(11.4 208.5) rotate(-89.9)">Fasting</text>
<text class="ser" font-size="13.2" textLength="34.6" lengthAdjust="spacingAndGlyphs" transform="translate(11.4 164.4) rotate(-89.9)">Blood</text>
<text class="ser" font-size="13.2" textLength="46.0" lengthAdjust="spacingAndGlyphs" transform="translate(11.4 127.0) rotate(-89.9)">Glucose</text>
<text class="ser" font-size="13.2" textLength="49.2" lengthAdjust="spacingAndGlyphs" transform="translate(11.4 78.9) rotate(-89.9)">(mg/dL)</text>
<text class="ser" font-size="11.5" text-anchor="middle" transform="translate(148.2 46.30) scale(0.8 1.12)" style="fill:#555;stroke:#555;stroke-width:0.25">*</text>
<text class="ser" font-size="11.5" text-anchor="middle" transform="translate(221.7 46.30) scale(0.8 1.12)" style="fill:#555;stroke:#555;stroke-width:0.25">*</text>
<text class="ser" font-size="11.5" text-anchor="middle" transform="translate(295.8 47.10) scale(0.8 1.12)" style="fill:#555;stroke:#555;stroke-width:0.25">*</text>
<text class="ser" font-size="11.5" text-anchor="middle" transform="translate(232.8 102.00) scale(0.8 1.12)" style="fill:#555;stroke:#555;stroke-width:0.25">*</text>
<text class="ser" font-size="11.5" text-anchor="middle" transform="translate(239.05 102.00) scale(0.8 1.12)" style="fill:#555;stroke:#555;stroke-width:0.25">*</text>
<text class="ser" font-size="11.5" text-anchor="middle" transform="translate(242.95 87.10) scale(0.8 1.12)" style="fill:#555;stroke:#555;stroke-width:0.25">*</text>
<text class="ser" font-size="11.5" text-anchor="middle" transform="translate(248.8 87.10) scale(0.8 1.12)" style="fill:#555;stroke:#555;stroke-width:0.25">*</text>
<text class="ser" font-size="11.5" text-anchor="middle" transform="translate(254.9 87.10) scale(0.8 1.12)" style="fill:#555;stroke:#555;stroke-width:0.25">*</text>
<text class="ser" font-size="11.5" text-anchor="middle" transform="translate(304.85 104.25) scale(0.8 1.12)" style="fill:#555;stroke:#555;stroke-width:0.25">*</text>
<text class="ser" font-size="11.5" text-anchor="middle" transform="translate(310.95 104.25) scale(0.8 1.12)" style="fill:#555;stroke:#555;stroke-width:0.25">*</text>
<text class="ser" font-size="11.5" text-anchor="middle" transform="translate(319.15 106.20) scale(0.8 1.12)" style="fill:#555;stroke:#555;stroke-width:0.25">*</text>
<text class="ser" font-size="11.5" text-anchor="middle" transform="translate(325.25 106.20) scale(0.8 1.12)" style="fill:#555;stroke:#555;stroke-width:0.25">*</text>
<rect x="74.4" y="1.45" width="21.6" height="6.15" fill="#000" stroke="#000" stroke-width="1"/>
<clipPath id="lgc"><rect x="75.0" y="2.05" width="20.4" height="4.95"/></clipPath><g fill="#fff" clip-path="url(#lgc)"><ellipse cx="75.45" cy="3.45" rx="1.2" ry="1.1"/><ellipse cx="78.17" cy="3.45" rx="1.2" ry="1.1"/><ellipse cx="80.89" cy="3.45" rx="1.2" ry="1.1"/><ellipse cx="83.61" cy="3.45" rx="1.2" ry="1.1"/><ellipse cx="86.33" cy="3.45" rx="1.2" ry="1.1"/><ellipse cx="89.05" cy="3.45" rx="1.2" ry="1.1"/><ellipse cx="91.77" cy="3.45" rx="1.2" ry="1.1"/><ellipse cx="94.49" cy="3.45" rx="1.2" ry="1.1"/><ellipse cx="97.21" cy="3.45" rx="1.2" ry="1.1"/><ellipse cx="76.81" cy="5.65" rx="1.2" ry="1.1"/><ellipse cx="79.53" cy="5.65" rx="1.2" ry="1.1"/><ellipse cx="82.25" cy="5.65" rx="1.2" ry="1.1"/><ellipse cx="84.97" cy="5.65" rx="1.2" ry="1.1"/><ellipse cx="87.69" cy="5.65" rx="1.2" ry="1.1"/><ellipse cx="90.41" cy="5.65" rx="1.2" ry="1.1"/><ellipse cx="93.13" cy="5.65" rx="1.2" ry="1.1"/><ellipse cx="95.85" cy="5.65" rx="1.2" ry="1.1"/></g>
<text class="ser" font-size="11.3" x="107.3" y="7.6">0W</text>
<rect x="145.15" y="1.85" width="21.65" height="5.5" fill="#fff" stroke="#111" stroke-width="1"/>
<rect x="148.95" y="5.3" width="1.1" height="0.9" fill="#555"/>
<rect x="152.95" y="5.3" width="1.1" height="0.9" fill="#555"/>
<rect x="156.95" y="5.3" width="1.1" height="0.9" fill="#555"/>
<rect x="160.95" y="5.3" width="1.1" height="0.9" fill="#555"/>
<text class="ser" font-size="11.3" x="179.9" y="7.6">1W</text>
<rect x="214.1" y="1.85" width="22.25" height="5.85" fill="#fff" stroke="#111" stroke-width="1"/>
<path d="M214.1 6.0H236.3" stroke="#222" stroke-width="0.9"/>
<text class="ser" font-size="11.3" x="247.9" y="7.6">4W</text>
<rect x="283.4" y="2.55" width="21.6" height="5.95" fill="#fff" stroke="#111" stroke-width="1.1"/>
<path d="M288.9 2.55V8.5" stroke="#111" stroke-width="1.15"/>
<path d="M294.3 2.55V8.5" stroke="#111" stroke-width="1.15"/>
<path d="M299.7 2.55V8.5" stroke="#111" stroke-width="1.15"/>
<text class="ser" font-size="11.3" x="316.9" y="9.2">8W</text>
</svg></body></html>
